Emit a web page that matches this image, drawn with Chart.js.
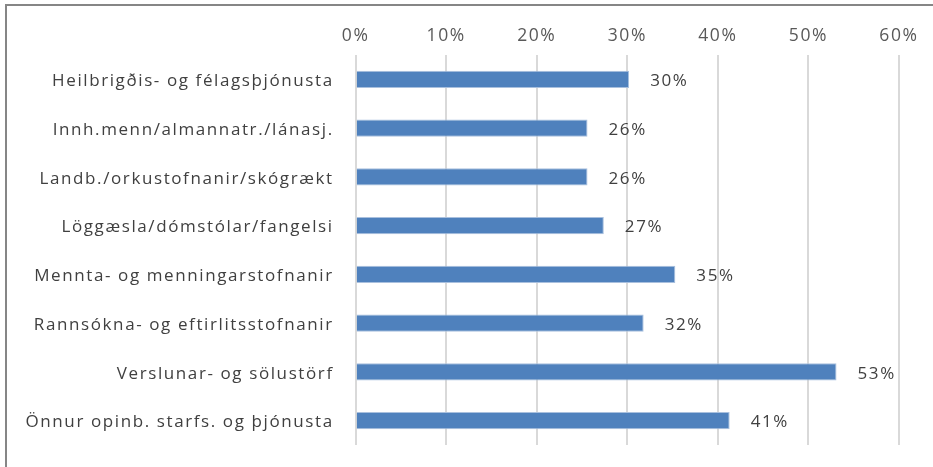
<!DOCTYPE html>
<html>
<head>
<meta charset="utf-8">
<script src="https://cdn.jsdelivr.net/npm/chart.js@4/dist/chart.umd.min.js"></script>
<style>
  html, body { margin: 0; padding: 0; background: #fff; overflow: hidden; }
  #wrap { position: relative; width: 933px; height: 467px; }
  #frame { position: absolute; left: 5px; top: 4px; width: 1000px; height: 1000px;
           border-left: 2px solid #868686; border-top: 2px solid #868686; pointer-events: none; }
  canvas { position: absolute; left: 0; top: 0; }
</style>
</head>
<body>
<div id="wrap">
  <canvas id="c" width="933" height="467"></canvas>
  <div id="frame"></div>
</div>
<script>
const categories = [
  "Heilbrigðis- og félagsþjónusta",
  "Innh.menn/almannatr./lánasj.",
  "Landb./orkustofnanir/skógrækt",
  "Löggæsla/dómstólar/fangelsi",
  "Mennta- og menningarstofnanir",
  "Rannsókna- og eftirlitsstofnanir",
  "Verslunar- og sölustörf",
  "Önnur opinb. starfs. og þjónusta"
];
const shares = [30.2, 25.6, 25.6, 27.4, 35.3, 31.8, 53.1, 41.3];
const tickValues = [0, 10, 20, 30, 40, 50, 60];

const FONT = "'Open Sans', 'DejaVu Sans', sans-serif";
const SPACING = '1.6px';

const spacingPlugin = {
  id: 'spacing',
  beforeDraw(chart) { chart.ctx.letterSpacing = SPACING; }
};

const labelPlugin = {
  id: 'barLabels',
  afterDatasetsDraw(chart) {
    const ctx = chart.ctx;
    const meta = chart.getDatasetMeta(0);
    ctx.save();
    ctx.letterSpacing = SPACING;
    ctx.font = "17px " + FONT;
    ctx.fillStyle = '#404040';
    ctx.textAlign = 'left';
    ctx.textBaseline = 'middle';
    meta.data.forEach((bar, i) => {
      ctx.fillText(Math.round(shares[i]) + '%', bar.x + 21, bar.y + 2);
    });
    ctx.restore();
  }
};

new Chart(document.getElementById('c'), {
  type: 'bar',
  data: {
    labels: categories,
    datasets: [{
      data: shares,
      backgroundColor: '#4F81BD',
      borderColor: '#A9C0DE',
      borderWidth: 1,
      barPercentage: 0.35,
      categoryPercentage: 1.0
    }]
  },
  options: {
    indexAxis: 'y',
    responsive: false,
    animation: false,
    layout: { padding: { left: 0, right: 34, top: 0, bottom: 22 } },
    plugins: { legend: { display: false }, tooltip: { enabled: false } },
    scales: {
      x: {
        position: 'top',
        min: 0, max: 60,
        afterBuildTicks(axis) { axis.ticks = tickValues.map(v => ({ value: v })); },
        afterFit(axis) { axis.height = 55; axis.paddingLeft = 0; axis.paddingRight = 0; },
        grid: { color: '#d9d9d9', lineWidth: 2, drawTicks: false },
        border: { display: false },
        ticks: {
          padding: 8,
          color: '#595959',
          font: { family: FONT, size: 17.5 },
          callback: v => v + '%'
        }
      },
      y: {
        afterFit(axis) { axis.width = 355.7; axis.paddingTop = 0; axis.paddingBottom = 0; },
        grid: { display: false, drawTicks: false },
        border: { display: false },
        ticks: {
          padding: 22,
          labelOffset: 2,
          color: '#404040',
          font: { family: FONT, size: 17 }
        }
      }
    }
  },
  plugins: [spacingPlugin, labelPlugin]
});
</script>
</body>
</html>
